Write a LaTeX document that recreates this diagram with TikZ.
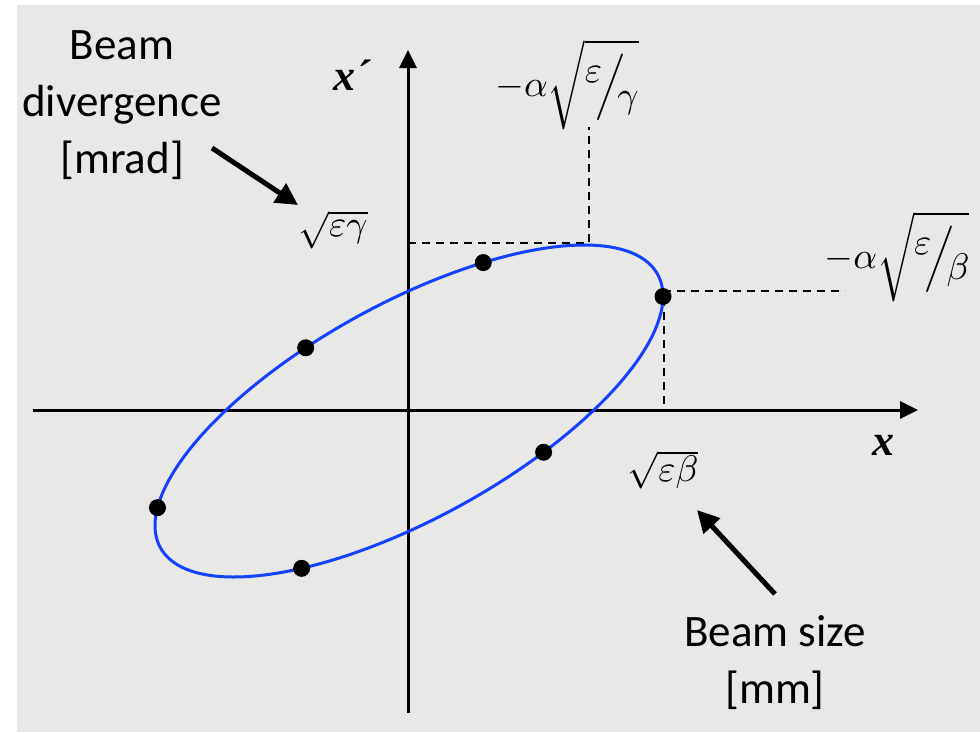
\documentclass[tikz,border=0pt]{standalone}
\usepackage[no-math]{fontspec}
\setmainfont{Carlito}
\newfontfamily\tms{Liberation Serif}
\usepackage{amsmath,amssymb,graphicx}
\usetikzlibrary{arrows.meta}
\definecolor{bg}{RGB}{232,232,230}
\definecolor{ellc}{RGB}{20,64,255}
\newcommand{\slfr}[2]{\raisebox{0.38em}{$#1$}\kern-0.18em\Big/\kern-0.22em\raisebox{-0.3em}{$#2$}}
\newcommand{\scmath}[1]{\scalebox{3.7}{$#1$}}
\begin{document}
\begin{tikzpicture}[x=1pt,y=-1pt,
 lbl/.style={font=\fontsize{45}{57}\selectfont, align=center, inner sep=0pt},
 mth/.style={inner sep=0pt},
 axl/.style={font=\tms\bfseries\itshape\fontsize{44}{50}\selectfont, inner sep=0pt},
 ax/.style={line width=3pt, -{Triangle[length=18pt,width=17pt]}},
 ann/.style={line width=5pt, -{Triangle[length=22pt,width=22pt]}},
 dsh/.style={line width=1.8pt, dash pattern=on 8pt off 6pt},
 dotn/.style={circle, fill=black, minimum size=17pt, inner sep=0pt}]
\useasboundingbox (0,0) rectangle (980,732);
\fill[white] (0,0) rectangle (980,732);
\fill[bg] (17,5) rectangle (980,732);
% axes
\coordinate (xs) at (33,410);
\coordinate (xe) at (918,410);
\coordinate (ys) at (408,713);
\coordinate (ye) at (408,50);
\draw[ax] (xs) -- (xe);
\draw[ax] (ys) -- (ye);
% dashed guides
\coordinate (yax) at (408,243);
\coordinate (ytop) at (589,243);
\coordinate (ytopu) at (589,127);
\coordinate (xr) at (663,291);
\coordinate (xrr) at (845,291);
\coordinate (xv) at (664,298);
\coordinate (xvd) at (664,410);
\draw[dsh] (yax) -- (ytop) -- (ytopu);
\draw[dsh] (xr) -- (xrr);
\draw[dsh] (xv) -- (xvd);
% ellipse
\draw[ellc, line width=3pt] plot[variable=\t, domain=0:360, samples=200]
  ({409+254*cos(\t)},{411-114.5*cos(\t)-120.2*sin(\t)}) -- cycle;
\foreach \t/\n in {0/1,73/2,114/3,172/4,245/5,302/6}
  \node[dotn] (d\n) at ({409+254*cos(\t)},{411-114.5*cos(\t)-120.2*sin(\t)}) {};
% labels
\node[lbl] (div) at (122,105) {Beam\\divergence\\{[mrad]}};
\node[lbl] (size) at (775,663) {Beam size\\{[mm]}};
\node[axl] (xp) at (352,75) {x´};
\node[axl] (xl) at (883,445) {x};
\node[mth] (sg) at (333,230) {\scmath{\sqrt{\varepsilon\gamma}}};
\node[mth] (sb) at (663,470) {\scmath{\sqrt{\varepsilon\beta}}};
\node[mth] (ag) at (567,85) {\scmath{-\alpha\sqrt{\slfr{\varepsilon}{\gamma}}}};
\node[mth] (ab) at (897,257) {\scmath{-\alpha\sqrt{\slfr{\varepsilon}{\beta}}}};
% annotation arrows
\coordinate (a1s) at (212,148);
\coordinate (a1e) at (298,205);
\coordinate (a2s) at (775,594);
\coordinate (a2e) at (697,510);
\draw[ann] (a1s) -- (a1e);
\draw[ann] (a2s) -- (a2e);
\end{tikzpicture}
\end{document}
